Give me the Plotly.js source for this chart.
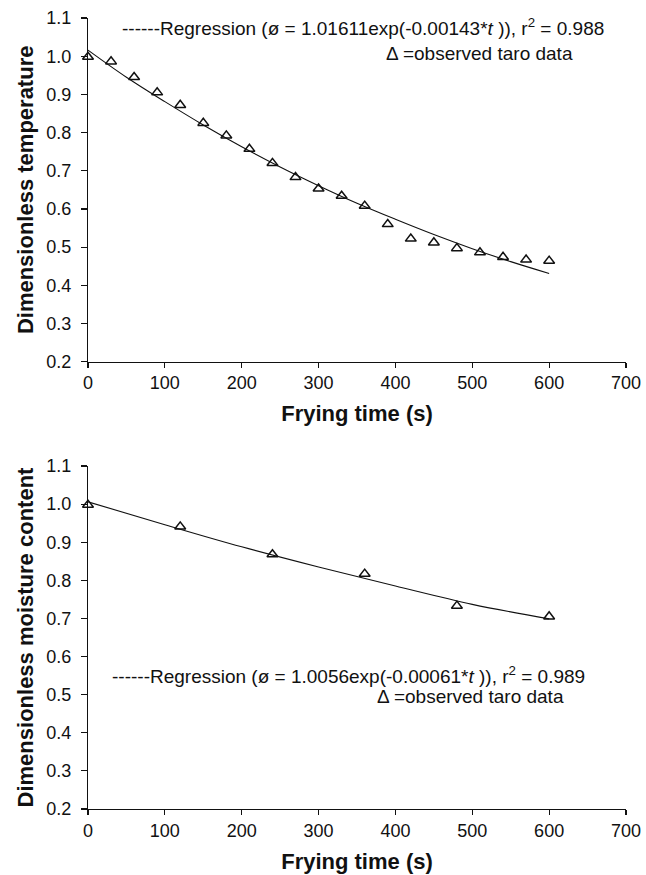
<!DOCTYPE html>
<html>
<head>
<meta charset="utf-8">
<script src="https://cdn.plot.ly/plotly-3.0.1.min.js"></script>
<style>body{margin:0;padding:0;background:#fff;} #chart{width:646px;height:875px;}</style>
</head>
<body>
<div id="chart"></div>
<script>
// ---- Top panel: dimensionless temperature ----
const tempTime = [0, 30, 60, 90, 120, 150, 180, 210, 240, 270, 300, 330, 360, 390, 420, 450, 480, 510, 540, 570, 600];
const tempObserved = [0.998, 0.986, 0.945, 0.905, 0.872, 0.825, 0.792, 0.757, 0.720, 0.683, 0.653, 0.634, 0.608, 0.560, 0.522, 0.512, 0.497, 0.486, 0.474, 0.467, 0.464];
const tempFitTime = [0, 50, 100, 150, 200, 250, 300, 350, 400, 450, 500, 550, 600];
const tempFit = [1.016, 0.945, 0.881, 0.820, 0.763, 0.710, 0.661, 0.615, 0.573, 0.533, 0.496, 0.462, 0.431];

// ---- Bottom panel: dimensionless moisture content ----
const moistTime = [0, 120, 240, 360, 480, 600];
const moistObserved = [0.998, 0.941, 0.868, 0.817, 0.733, 0.705];
const moistFitTime = [0, 100, 200, 300, 400, 500, 600];
const moistFit = [1.006, 0.946, 0.888, 0.835, 0.785, 0.737, 0.699];

// ---- Labels ----
const xTitle = "Frying time (s)";
const yTitleTop = "Dimensionless temperature";
const yTitleBottom = "Dimensionless moisture content";
const noteTop1 = "------Regression (ø = 1.01611exp(-0.00143*<i>t</i> )), r<sup>2</sup> = 0.988";
const noteTop2 = "Δ =observed taro data";
const noteBot1 = "------Regression (ø = 1.0056exp(-0.00061*<i>t</i> )), r<sup>2</sup> = 0.989";
const noteBot2 = "Δ =observed taro data";
const xTickVals = [0, 100, 200, 300, 400, 500, 600, 700];
const yTickVals = [0.2, 0.3, 0.4, 0.5, 0.6, 0.7, 0.8, 0.9, 1.0, 1.1];
const yTickText = ["0.2", "0.3", "0.4", "0.5", "0.6", "0.7", "0.8", "0.9", "1.0", "1.1"];

const FONT = "Liberation Sans, Arial, Helvetica, sans-serif";
const lineStyle = {color: "#111", width: 1.1};
const markerStyle = {symbol: "triangle-up-open", size: 9.5, color: "#111", line: {color: "#111", width: 1.5}};

const traces = [
  {x: tempFitTime, y: tempFit, mode: "lines", line: {...lineStyle, shape: "spline"}, xaxis: "x", yaxis: "y", name: "Regression", showlegend: false},
  {x: tempTime, y: tempObserved, mode: "markers", marker: markerStyle, xaxis: "x", yaxis: "y", name: "Observed", showlegend: false, cliponaxis: false},
  {x: moistFitTime, y: moistFit, mode: "lines", line: {...lineStyle, shape: "spline"}, xaxis: "x2", yaxis: "y2", name: "Regression", showlegend: false},
  {x: moistTime, y: moistObserved, mode: "markers", marker: markerStyle, xaxis: "x2", yaxis: "y2", name: "Observed", showlegend: false, cliponaxis: false}
];

function xaxisDef(anchor) {
  return {
    anchor: anchor, domain: [0, 1], range: [0, 700], tickvals: xTickVals,
    showgrid: false, zeroline: false, showline: true, linecolor: "#111", linewidth: 1.2,
    ticks: "outside", ticklen: 5, tickwidth: 1.2, tickcolor: "#111",
    tickfont: {family: FONT, size: 18, color: "#111"},
    title: {text: xTitle, font: {family: FONT, size: 22, color: "#111", weight: "bold"}, standoff: 13},
    automargin: false
  };
}
function yaxisDef(anchor, domain, title) {
  return {
    anchor: anchor, domain: domain, range: [0.2, 1.1], tickvals: yTickVals, ticktext: yTickText,
    showgrid: false, zeroline: false, showline: true, linecolor: "#111", linewidth: 1.2,
    ticks: "outside", ticklen: 6, tickwidth: 1.2, tickcolor: "#111",
    ticklabelstandoff: 6,
    tickfont: {family: FONT, size: 18, color: "#111"},
    title: {text: title, font: {family: FONT, size: 22, color: "#111", weight: "bold"}, standoff: 6},
    automargin: false
  };
}

const annFont = {family: FONT, size: 19, color: "#111"};
const layout = {
  width: 646, height: 875,
  margin: {l: 88, r: 20, t: 18, b: 66},
  paper_bgcolor: "#fff", plot_bgcolor: "#fff",
  showlegend: false,
  xaxis: xaxisDef("y"),
  yaxis: yaxisDef("x", [0.5655, 1], yTitleTop),
  xaxis2: xaxisDef("y2"),
  yaxis2: yaxisDef("x2", [0, 0.4336], yTitleBottom),
  annotations: [
    {xref: "paper", yref: "paper", x: 0.9628, y: 0.989, xanchor: "right", yanchor: "middle", text: noteTop1, showarrow: false, font: annFont},
    {xref: "paper", yref: "paper", x: 0.9051, y: 0.9554, xanchor: "right", yanchor: "middle", text: noteTop2, showarrow: false, font: annFont},
    {xref: "paper", yref: "paper", x: 0.9275, y: 0.1694, xanchor: "right", yanchor: "middle", text: noteBot1, showarrow: false, font: annFont},
    {xref: "paper", yref: "paper", x: 0.8880, y: 0.142, xanchor: "right", yanchor: "middle", text: noteBot2, showarrow: false, font: annFont}
  ]
};

Plotly.newPlot("chart", traces, layout, {staticPlot: true, displayModeBar: false});
</script>
</body>
</html>
